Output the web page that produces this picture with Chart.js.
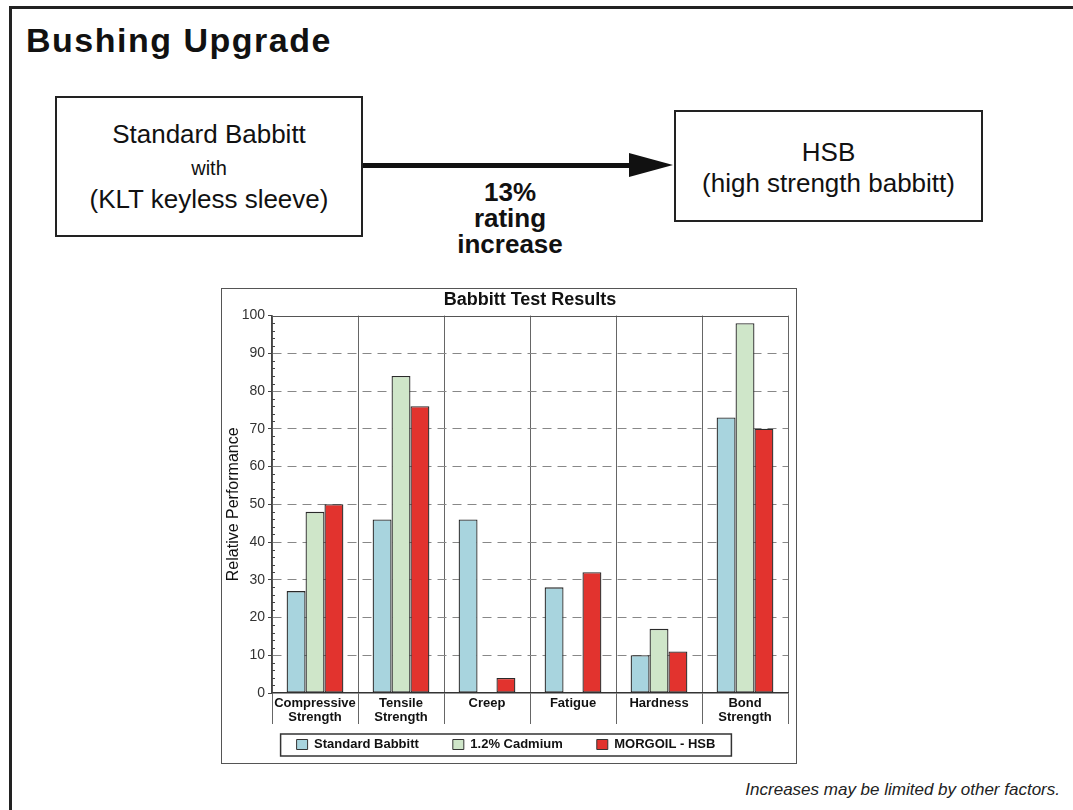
<!DOCTYPE html>
<html>
<head>
<meta charset="utf-8">
<script src="https://cdn.jsdelivr.net/npm/chart.js@4/dist/chart.umd.min.js"></script>
<style>
  body { margin: 0; width: 1073px; height: 810px; background: #fff; overflow: hidden; position: relative; font-family: "Liberation Sans", Arial, sans-serif; color: #111; }
  .frame { position: absolute; left: 9px; top: 6px; width: 1100px; height: 900px; border-top: 3px solid #222; border-left: 3px solid #222; }
  .title { position: absolute; left: 26px; top: 21px; font-size: 34px; font-weight: bold; letter-spacing: 1.5px; }
  .box { position: absolute; border: 2.5px solid #222; box-sizing: border-box; text-align: center; }
  .line { position: absolute; left: 0; right: 0; transform: translateY(-50%); white-space: nowrap; }
  .arrow { position: absolute; left: 363px; top: 163px; width: 268px; height: 5px; background: #111; }
  .head { position: absolute; left: 629px; top: 153px; width: 0; height: 0; border-top: 12.5px solid transparent; border-bottom: 12.5px solid transparent; border-left: 44px solid #111; }
  .rating { position: absolute; left: 410px; width: 200px; top: 179px; text-align: center; font-size: 26px; font-weight: bold; line-height: 26px; }
  .chartbox { position: absolute; left: 221px; top: 288px; width: 576px; height: 476px; border: 1.5px solid #555; box-sizing: border-box; }
  .note { position: absolute; right: 13px; top: 780px; font-size: 17px; font-style: italic; color: #222; }
</style>
</head>
<body>
<div class="frame"></div>
<div class="title">Bushing Upgrade</div>

<div class="box" style="left:55px; top:96px; width:308px; height:141px;">
  <div class="line" style="top:36px; font-size:26px;">Standard Babbitt</div>
  <div class="line" style="top:70px; font-size:20px;">with</div>
  <div class="line" style="top:101px; font-size:26px;">(KLT keyless sleeve)</div>
</div>
<div class="arrow"></div>
<div class="head"></div>
<div class="rating">13%<br>rating<br>increase</div>
<div class="box" style="left:674px; top:110px; width:309px; height:112px;">
  <div class="line" style="top:40px; font-size:26px;">HSB</div>
  <div class="line" style="top:71px; font-size:26px;">(high strength babbitt)</div>
</div>

<div class="chartbox"><canvas id="chart"></canvas></div>
<div class="note">Increases may be limited by other factors.</div>

<script>
const categories = [['Compressive', 'Strength'], ['Tensile', 'Strength'], 'Creep', 'Fatigue', 'Hardness', ['Bond', 'Strength']];
const standardBabbitt = [27, 46, 46, 28, 10, 73];
const cadmium = [48, 84, null, null, 17, 98];
const morgoilHsb = [50, 76, 4, 32, 11, 70];
const seriesNames = ['Standard Babbitt', '1.2% Cadmium', 'MORGOIL - HSB'];

const font = "'Liberation Sans', Arial, sans-serif";

// top frame line, minor ticks on the value axis, box round the legend
const extras = {
    id: 'extras',
    afterDraw(chart) {
        const ctx = chart.ctx;
        const y = chart.scales.y;
        const area = chart.chartArea;
        ctx.save();
        ctx.strokeStyle = '#555';
        ctx.lineWidth = 1.2;
        ctx.beginPath();
        ctx.moveTo(area.left, Math.round(area.top) + 0.5);
        ctx.lineTo(area.right, Math.round(area.top) + 0.5);
        ctx.stroke();
        ctx.strokeStyle = '#444';
        ctx.lineWidth = 1;
        for (let v = 2; v < 100; v += 2) {
            if (v % 10 === 0) continue;
            const py = Math.round(y.getPixelForValue(v)) + 0.5;
            ctx.beginPath();
            ctx.moveTo(area.left, py);
            ctx.lineTo(area.left + 3, py);
            ctx.stroke();
        }
        const boxes = chart.legend.legendHitBoxes;
        if (boxes && boxes.length) {
            const left = Math.min(...boxes.map(b => b.left)) - 16;
            const right = Math.max(...boxes.map(b => b.left + b.width)) + 16;
            const top = boxes[0].top - 4;
            const bottom = boxes[0].top + boxes[0].height + 5;
            ctx.lineWidth = 1.5;
            ctx.strokeStyle = '#333';
            ctx.strokeRect(left, top, right - left, bottom - top);
        }
        ctx.restore();
    }
};

new Chart(document.getElementById('chart'), {
    type: 'bar',
    data: {
        labels: categories,
        datasets: [
            { label: seriesNames[0], data: standardBabbitt, backgroundColor: '#a8d4de' },
            { label: seriesNames[1], data: cadmium, backgroundColor: '#cfe6c9' },
            { label: seriesNames[2], data: morgoilHsb, backgroundColor: '#e2332e' }
        ]
    },
    options: {
        responsive: true,
        maintainAspectRatio: false,
        animation: false,
        datasets: {
            bar: { borderColor: '#2a2a2a', borderWidth: 1.3, borderSkipped: false, categoryPercentage: 0.66, barPercentage: 1.0 }
        },
        layout: { padding: { left: 2, right: 8, top: 0, bottom: 2 } },
        plugins: {
            title: {
                display: true,
                fullSize: false,
                text: 'Babbitt Test Results',
                color: '#111',
                font: { family: font, size: 18, weight: 'bold' },
                padding: { top: 0, bottom: 5 }
            },
            legend: {
                position: 'bottom',
                labels: {
                    color: '#111',
                    font: { family: font, size: 13, weight: 'bold' },
                    boxWidth: 11,
                    boxHeight: 10,
                    padding: 8,
                    generateLabels(chart) {
                        const items = Chart.defaults.plugins.legend.labels.generateLabels(chart);
                        items.forEach((it, i) => {
                            it.lineWidth = 1;
                            it.strokeStyle = '#333';
                            if (i < items.length - 1) it.text = it.text + '\u2003\u2003';
                        });
                        return items;
                    }
                }
            },
            tooltip: { enabled: false }
        },
        scales: {
            x: {
                grid: { color: '#666', lineWidth: 1, offset: true, tickLength: 31, tickColor: '#666' },
                border: { color: '#333', width: 1.5 },
                ticks: {
                    color: '#111',
                    padding: -28,
                    maxRotation: 0,
                    autoSkip: false,
                    font: { family: font, size: 13, weight: 'bold', lineHeight: 1.1 }
                },
                afterFit(scale) { scale.height = 37; }
            },
            y: {
                min: 0,
                max: 100,
                ticks: { stepSize: 10, color: '#333', padding: 3, font: { family: font, size: 14 } },
                grid: {
                    color: c => (c.tick && (c.tick.value === 0 || c.tick.value === 100)) ? 'rgba(0,0,0,0)' : '#888',
                    tickColor: '#444',
                    tickLength: 4
                },
                border: { color: '#444', width: 1.5, dash: [9, 6] },
                title: {
                    display: true,
                    text: 'Relative Performance',
                    color: '#111',
                    font: { family: font, size: 16 },
                    padding: { top: 0, bottom: 2 }
                },
                afterFit(scale) { scale.width = 48; }
            }
        }
    },
    plugins: [extras]
});
</script>
</body>
</html>
